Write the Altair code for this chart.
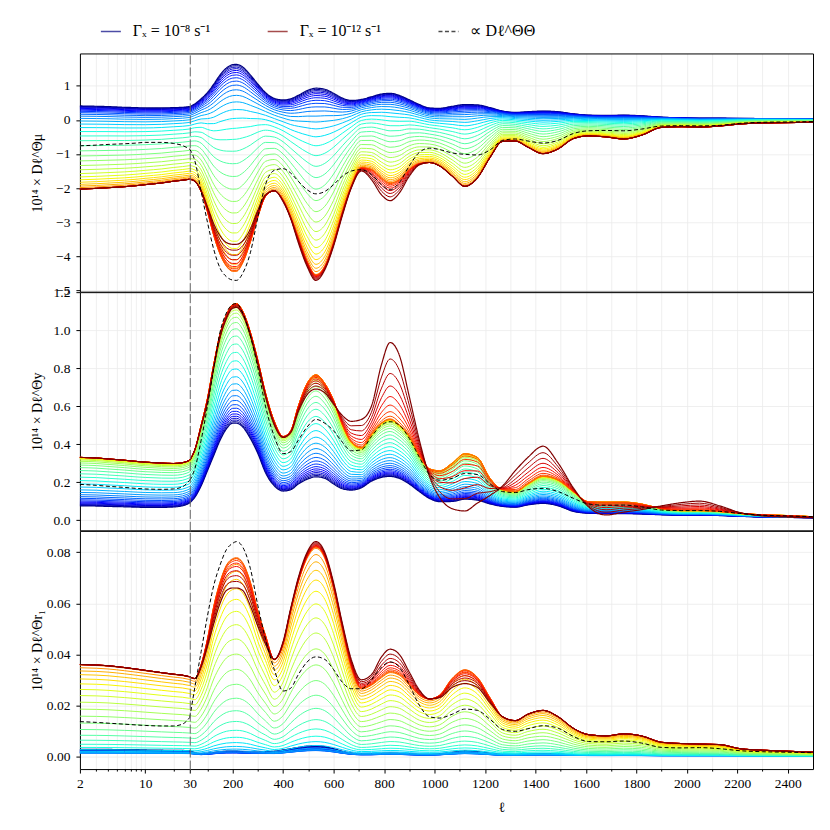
import numpy as np
import pandas as pd
import altair as alt

# ---------------- multipole grids ----------------
LOG_L = [2, 3, 4, 6, 8, 10, 15, 20, 25, 30]
LIN_L = [30, 50, 75, 100, 125, 150, 175, 200, 215, 240,
         270, 300, 330, 365, 400, 430, 460, 495, 530, 565,
         600, 635, 670, 710, 750, 790, 824, 860, 900, 940,
         980, 1020, 1070, 1120, 1170, 1220, 1270, 1320, 1370, 1430,
         1490, 1550, 1610, 1680, 1750, 1820, 1900, 1980, 2050, 2130,
         2210, 2300, 2400, 2500]

# ---------------- panel 1 : Theta-mu ----------------
MU_BLUE_LOG = [0.41, 0.40, 0.39, 0.37, 0.36, 0.35, 0.35, 0.36, 0.37, 0.39]
MU_SAT_LOG = [-2.03, -2.01, -1.99, -1.96, -1.93, -1.90, -1.85, -1.80, -1.77, -1.74]
MU_DARK_LOG = [-2.03, -2.01, -1.99, -1.96, -1.93, -1.90, -1.85, -1.80, -1.77, -1.74]
MU_DASH_LOG = [-0.76, -0.74, -0.72, -0.70, -0.68, -0.66, -0.66, -0.69, -0.75, -0.86]
MU_BLUE_LIN = [0.39, 0.47, 0.62, 0.80, 1.05, 1.32, 1.52, 1.62, 1.63, 1.55,
               1.32, 1.05, 0.80, 0.63, 0.585, 0.62, 0.72, 0.86, 0.93, 0.90,
               0.78, 0.64, 0.57, 0.60, 0.68, 0.76, 0.78, 0.72, 0.59, 0.45,
               0.35, 0.34, 0.40, 0.45, 0.44, 0.36, 0.26, 0.22, 0.24, 0.26,
               0.24, 0.18, 0.14, 0.13, 0.14, 0.12, 0.08, 0.06, 0.05, 0.05,
               0.045, 0.04, 0.035, 0.03]
MU_SAT_LIN = [-1.74, -1.80, -2.10, -2.70, -3.40, -3.95, -4.30, -4.45, -4.45, -4.20,
              -3.60, -2.85, -2.25, -2.08, -2.35, -2.85, -3.45, -4.15, -4.55, -4.30,
              -3.60, -2.70, -1.95, -1.40, -1.45, -1.70, -1.85, -1.75, -1.45, -1.28,
              -1.25, -1.35, -1.65, -1.95, -1.70, -1.10, -0.63, -0.62, -0.80, -0.99,
              -0.85, -0.55, -0.47, -0.50, -0.56, -0.45, -0.22, -0.20, -0.21, -0.18,
              -0.12, -0.09, -0.08, -0.07]
MU_DARK_LIN = [-1.74, -1.80, -2.08, -2.55, -3.05, -3.40, -3.60, -3.65, -3.65, -3.55,
               -3.20, -2.65, -2.20, -2.08, -2.40, -2.90, -3.60, -4.30, -4.71, -4.40,
               -3.70, -2.80, -2.00, -1.50, -1.75, -2.20, -2.37, -2.15, -1.65, -1.32,
               -1.25, -1.35, -1.65, -1.95, -1.70, -1.10, -0.63, -0.62, -0.80, -0.99,
               -0.85, -0.55, -0.47, -0.50, -0.56, -0.45, -0.22, -0.20, -0.21, -0.18,
               -0.12, -0.09, -0.08, -0.07]
MU_DASH_LIN = [-0.86, -1.20, -2.10, -3.00, -3.80, -4.35, -4.60, -4.70, -4.71, -4.50,
               -3.90, -2.85, -1.90, -1.48, -1.43, -1.56, -1.80, -2.05, -2.17, -2.10,
               -1.90, -1.65, -1.50, -1.46, -1.60, -1.90, -2.05, -1.85, -1.35, -0.95,
               -0.83, -0.87, -0.97, -1.01, -1.03, -0.88, -0.60, -0.56, -0.62, -0.68,
               -0.60, -0.40, -0.32, -0.31, -0.32, -0.27, -0.18, -0.17, -0.175, -0.16,
               -0.10, -0.07, -0.06, -0.05]

# ---------------- panel 2 : Theta-y ----------------
Y_BLUE_LOG = [0.075, 0.074, 0.072, 0.070, 0.068, 0.067, 0.067, 0.069, 0.075, 0.090]
Y_SAT_LOG = [0.330, 0.327, 0.322, 0.315, 0.309, 0.305, 0.300, 0.298, 0.302, 0.315]
Y_DARK_LOG = [0.330, 0.327, 0.322, 0.315, 0.309, 0.305, 0.300, 0.298, 0.302, 0.315]
Y_DASH_LOG = [0.188, 0.183, 0.178, 0.172, 0.167, 0.164, 0.162, 0.164, 0.175, 0.210]
Y_BLUE_LIN = [0.090, 0.12, 0.18, 0.26, 0.34, 0.42, 0.48, 0.51, 0.51, 0.49,
              0.43, 0.35, 0.25, 0.18, 0.153, 0.16, 0.19, 0.215, 0.228, 0.22,
              0.19, 0.165, 0.158, 0.17, 0.205, 0.225, 0.23, 0.22, 0.19, 0.15,
              0.114, 0.097, 0.098, 0.11, 0.105, 0.085, 0.072, 0.068, 0.080, 0.088,
              0.075, 0.046, 0.036, 0.034, 0.034, 0.032, 0.028, 0.026, 0.026, 0.024,
              0.020, 0.016, 0.014, 0.012]
Y_SAT_LIN = [0.315, 0.37, 0.50, 0.64, 0.82, 0.98, 1.08, 1.135, 1.14, 1.10,
             0.99, 0.84, 0.67, 0.52, 0.44, 0.47, 0.60, 0.72, 0.765, 0.72,
             0.63, 0.50, 0.41, 0.38, 0.45, 0.51, 0.53, 0.50, 0.44, 0.34,
             0.27, 0.26, 0.30, 0.35, 0.33, 0.22, 0.16, 0.15, 0.19, 0.23,
             0.21, 0.15, 0.097, 0.095, 0.095, 0.085, 0.060, 0.050, 0.050, 0.045,
             0.035, 0.028, 0.024, 0.018]
Y_DARK_LIN = [0.315, 0.37, 0.49, 0.62, 0.80, 0.96, 1.06, 1.115, 1.12, 1.08,
              0.97, 0.82, 0.65, 0.50, 0.435, 0.46, 0.57, 0.66, 0.69, 0.67,
              0.61, 0.55, 0.52, 0.53, 0.60, 0.82, 0.935, 0.87, 0.65, 0.42,
              0.23, 0.12, 0.06, 0.048, 0.09, 0.13, 0.18, 0.26, 0.33, 0.389,
              0.30, 0.17, 0.07, 0.027, 0.042, 0.055, 0.075, 0.092, 0.10, 0.075,
              0.040, 0.022, 0.016, 0.012]
Y_DASH_LIN = [0.21, 0.27, 0.42, 0.60, 0.80, 0.99, 1.09, 1.135, 1.14, 1.09,
              0.97, 0.80, 0.60, 0.44, 0.35, 0.36, 0.42, 0.49, 0.53, 0.51,
              0.47, 0.41, 0.365, 0.37, 0.44, 0.50, 0.518, 0.50, 0.43, 0.33,
              0.24, 0.21, 0.22, 0.245, 0.24, 0.19, 0.15, 0.145, 0.16, 0.167,
              0.15, 0.115, 0.085, 0.078, 0.079, 0.070, 0.053, 0.050, 0.050, 0.046,
              0.035, 0.026, 0.022, 0.018]

# ---------------- panel 3 : Theta-r1 ----------------
R_BLUE_LOG = [0.0027, 0.0027, 0.0027, 0.0026, 0.0026, 0.0025, 0.0024, 0.0023, 0.0023, 0.0022]
R_SAT_LOG = [0.0360, 0.0358, 0.0355, 0.0348, 0.0342, 0.0337, 0.0328, 0.0322, 0.0318, 0.0312]
R_DARK_LOG = [0.0360, 0.0358, 0.0355, 0.0348, 0.0342, 0.0337, 0.0328, 0.0322, 0.0318, 0.0312]
R_DASH_LOG = [0.0136, 0.0133, 0.0130, 0.0126, 0.0123, 0.0121, 0.0119, 0.0119, 0.0126, 0.0152]
R_BLUE_LIN = [0.0022, 0.0015, 0.0010, 0.0012, 0.0015, 0.0018, 0.0020, 0.0020, 0.0020, 0.0018,
              0.0017, 0.0017, 0.0018, 0.0020, 0.0025, 0.0030, 0.0035, 0.0040, 0.0041, 0.0038,
              0.0030, 0.0020, 0.0013, 0.0010, 0.0010, 0.0012, 0.0013, 0.0012, 0.0010, 0.0008,
              0.0008, 0.0010, 0.0016, 0.0021, 0.0018, 0.0012, 0.0008, 0.0008, 0.0009, 0.0010,
              0.0009, 0.0007, 0.0006, 0.0006, 0.0006, 0.0006, 0.0005, 0.0005, 0.0005, 0.0005,
              0.0005, 0.0004, 0.0004, 0.0004]
R_SAT_LIN = [0.0312, 0.0305, 0.036, 0.046, 0.059, 0.0685, 0.075, 0.0776, 0.078, 0.076,
             0.0685, 0.057, 0.0476, 0.038, 0.044, 0.057, 0.0685, 0.078, 0.082, 0.078,
             0.066, 0.050, 0.035, 0.0265, 0.028, 0.031, 0.033, 0.032, 0.028, 0.024,
             0.0225, 0.024, 0.0306, 0.034, 0.031, 0.023, 0.0155, 0.014, 0.0165, 0.018,
             0.0155, 0.011, 0.0085, 0.008, 0.0088, 0.008, 0.0055, 0.005, 0.0048, 0.0046,
             0.003, 0.0024, 0.002, 0.0016]
R_DARK_LIN = [0.0312, 0.0305, 0.035, 0.043, 0.052, 0.060, 0.065, 0.066, 0.066, 0.065,
              0.059, 0.051, 0.044, 0.038, 0.045, 0.058, 0.070, 0.080, 0.0842, 0.080,
              0.068, 0.052, 0.038, 0.030, 0.032, 0.039, 0.042, 0.040, 0.033, 0.026,
              0.0225, 0.023, 0.027, 0.0285, 0.027, 0.021, 0.0155, 0.014, 0.0165, 0.018,
              0.0155, 0.011, 0.0085, 0.008, 0.0088, 0.008, 0.0055, 0.005, 0.0048, 0.0046,
              0.003, 0.0024, 0.002, 0.0016]
R_DASH_LIN = [0.0152, 0.027, 0.041, 0.055, 0.067, 0.075, 0.081, 0.0835, 0.0842, 0.082,
              0.0737, 0.059, 0.046, 0.034, 0.0256, 0.0267, 0.032, 0.037, 0.039, 0.038,
              0.034, 0.029, 0.0265, 0.0265, 0.030, 0.035, 0.037, 0.035, 0.028, 0.020,
              0.0155, 0.015, 0.0165, 0.0185, 0.018, 0.0145, 0.0105, 0.0098, 0.0108, 0.012,
              0.011, 0.0078, 0.0058, 0.0057, 0.006, 0.0052, 0.0035, 0.0033, 0.0034, 0.003,
              0.0022, 0.0018, 0.0016, 0.0014]

# ---------------- family of curves ----------------
N_CURVES = 41
T_SAT = 0.78
K_MIX = 10.0
T_MID = 0.47

KIND_BLUE = "Γₓ = 10⁻⁸ s⁻¹"
KIND_RED = "Γₓ = 10⁻¹² s⁻¹"
KIND_DASH = "∝ Dℓ^ΘΘ"
KINDS = [KIND_BLUE, KIND_RED, KIND_DASH]

FONT = "Liberation Serif"
W_LEFT, W_RIGHT, H = 110, 624, 238.5
GRID = "#ebebeb"


def jet_hex(t):
    r = np.interp(t, [0, 0.35, 0.66, 0.89, 1.0], [0, 0, 1, 1, 0.5])
    g = np.interp(t, [0, 0.125, 0.375, 0.64, 0.91, 1.0], [0, 0, 1, 1, 0, 0])
    b = np.interp(t, [0, 0.11, 0.34, 0.65, 1.0], [0.5, 1, 1, 0, 0])
    return "#%02x%02x%02x" % (int(round(r * 255)), int(round(g * 255)), int(round(b * 255)))


def curve_weights(t):
    L = lambda x: 1.0 / (1.0 + np.exp(-K_MIX * (x - T_MID)))
    wr = min(max((L(t) - L(0.0)) / (L(T_SAT) - L(0.0)), 0.0), 1.0)
    w = 0.88 * wr + 0.12 * min(t / T_SAT, 1.0)
    v = ((t - T_SAT) / (1.0 - T_SAT)) ** 2 if t > T_SAT else 0.0
    return w, v


def family_value(panel, a0, a1, a2, w, v):
    if panel == 0:
        return a0 + (a1 - a0) * w + (a2 - a1) * v
    if panel == 1:
        return a0 + (a1 - a0) * (1 - (1 - w) ** 2) + (a2 - a1) * v
    return a0 * (1 - w) ** 10 + a1 * w ** 2 + (a2 - a1) * v


PANELS = [
    dict(blue=(MU_BLUE_LOG, MU_BLUE_LIN), sat=(MU_SAT_LOG, MU_SAT_LIN),
         dark=(MU_DARK_LOG, MU_DARK_LIN), dash=(MU_DASH_LOG, MU_DASH_LIN),
         domain=[-5.04, 1.95], ticks=[-5, -4, -3, -2, -1, 0, 1], fmt="d",
         title="10¹⁴ × Dℓ^Θμ"),
    dict(blue=(Y_BLUE_LOG, Y_BLUE_LIN), sat=(Y_SAT_LOG, Y_SAT_LIN),
         dark=(Y_DARK_LOG, Y_DARK_LIN), dash=(Y_DASH_LOG, Y_DASH_LIN),
         domain=[-0.054, 1.2], ticks=[0.0, 0.2, 0.4, 0.6, 0.8, 1.0, 1.2], fmt=".1f",
         title="10¹⁴ × Dℓ^Θy"),
    dict(blue=(R_BLUE_LOG, R_BLUE_LIN), sat=(R_SAT_LOG, R_SAT_LIN),
         dark=(R_DARK_LOG, R_DARK_LIN), dash=(R_DASH_LOG, R_DASH_LIN),
         domain=[-0.005, 0.0884], ticks=[0.0, 0.02, 0.04, 0.06, 0.08], fmt=".2f",
         title="10¹⁴ × Dℓ^Θr₁"),
]


def build_frames(p, s):
    P = PANELS[p]
    ells = LOG_L if s == 0 else LIN_L
    a0 = np.array(P["blue"][s], dtype=float)
    a1 = np.array(P["sat"][s], dtype=float)
    a2 = np.array(P["dark"][s], dtype=float)
    rows = []
    for i in range(N_CURVES):
        t = i / (N_CURVES - 1)
        w, v = curve_weights(t)
        vals = family_value(p, a0, a1, a2, w, v)
        kind = KIND_BLUE if i == 0 else (KIND_RED if i == N_CURVES - 1 else "")
        for ell, val in zip(ells, vals):
            rows.append(dict(ell=ell, val=float(val), curve="c%02d" % i,
                             hex=jet_hex(t), kind=kind, idx=i))
    df = pd.DataFrame(rows)
    blue = df[df.idx == 0]
    mid = df[(df.idx > 0) & (df.idx < N_CURVES - 1)]
    dark = df[df.idx == N_CURVES - 1]
    dash = pd.DataFrame(dict(ell=ells, val=P["dash"][s], kind=KIND_DASH))
    return blue, mid, dark, dash


LEG = alt.Legend(title=None, orient="none", direction="horizontal",
                 legendX=20, legendY=-33, symbolType="stroke", symbolSize=400,
                 symbolStrokeWidth=1.5, symbolOpacity=0.7, labelFontSize=16,
                 labelFont=FONT, columnPadding=54, labelOffset=11, padding=0)
COLOR = alt.Color("kind:N", scale=alt.Scale(domain=KINDS, range=["#000080", "#800000", "#000000"]),
                  legend=LEG)
DASH = alt.StrokeDash("kind:N", scale=alt.Scale(domain=KINDS, range=[[1, 0], [1, 0], [4, 2.5]]),
                      legend=LEG)


def subpanel(p, s):
    P = PANELS[p]
    is_bottom = p == 2
    blue, mid, dark, dash = build_frames(p, s)
    if s == 0:
        xscale = alt.Scale(type="log", domain=[2, 30], nice=False)
        major = [2, 10, 30]
        minor = [3, 4, 5, 6, 7, 8, 9, 20]
        width = W_LEFT
    else:
        xscale = alt.Scale(domain=[30, 2500], nice=False, zero=False)
        major = list(range(200, 2401, 200))
        minor = list(range(100, 2301, 200))
        width = W_RIGHT
    yscale = alt.Scale(domain=P["domain"], nice=False, zero=False)

    ax_major = alt.Axis(values=major, format="d", labels=is_bottom, ticks=is_bottom,
                        tickSize=4, domain=True, grid=True, labelFlush=False,
                        labelOverlap=False, orient="bottom", labelPadding=3,
                        title=("ℓ" if (is_bottom and s == 1) else None),
                        titlePadding=11)
    ax_minor = alt.Axis(values=minor, labels=False, ticks=is_bottom, tickSize=2,
                        domain=False, grid=True, title=None, orient="bottom")
    ax_top = alt.Axis(values=major, labels=False, ticks=False, domain=True,
                      grid=False, title=None, orient="top")
    if s == 0:
        ax_y1 = alt.Axis(values=P["ticks"], format=P["fmt"], title=P["title"],
                         tickSize=4, grid=True, labelFlush=False, labelOverlap=False,
                         titleX=-42, titleY=H / 2, titleBaseline="middle", labelPadding=6)
        ax_y2 = None
        ax_y3 = None
    else:
        ax_y1 = alt.Axis(values=P["ticks"], labels=False, ticks=False, domain=False,
                         grid=True, title=None)
        ax_y2 = alt.Axis(values=P["ticks"], labels=False, ticks=False, grid=False,
                         domain=True, domainDash=[9, 3], domainColor="#666666",
                         title=None, orient="left", zindex=1)
        ax_y3 = alt.Axis(values=P["ticks"], labels=False, ticks=False, grid=False,
                         domain=True, title=None, orient="right")

    l_blue = alt.Chart(blue).mark_line(interpolate="monotone", strokeWidth=1.2).encode(
        x=alt.X("ell:Q", scale=xscale, axis=ax_major),
        y=alt.Y("val:Q", scale=yscale, axis=ax_y1),
        color=COLOR, strokeDash=DASH)
    l_mid = alt.Chart(mid).mark_line(interpolate="monotone", strokeWidth=1.0).encode(
        x=alt.X("ell:Q", scale=xscale, axis=ax_minor),
        y=alt.Y("val:Q", scale=yscale, axis=ax_y2),
        detail="curve:N",
        stroke=alt.Stroke("hex:N", scale=None))
    l_dark = alt.Chart(dark).mark_line(interpolate="monotone", strokeWidth=1.2).encode(
        x=alt.X("ell:Q", scale=xscale, axis=ax_top),
        y=alt.Y("val:Q", scale=yscale, axis=ax_y3),
        color=COLOR, strokeDash=DASH)
    l_dash = alt.Chart(dash).mark_line(interpolate="monotone", strokeWidth=1.0).encode(
        x=alt.X("ell:Q", scale=xscale, axis=None),
        y=alt.Y("val:Q", scale=yscale, axis=None),
        color=COLOR, strokeDash=DASH)
    return alt.layer(l_blue, l_mid, l_dark, l_dash).resolve_axis(
        x="independent", y="independent").properties(width=width, height=H)


cells = [subpanel(p, s) for p in range(3) for s in range(2)]

chart = alt.concat(*cells, columns=2, spacing=0, bounds="flush").properties(
    padding={"left": 23, "top": 12, "right": 6, "bottom": 5}
).configure_view(stroke=None).configure_axis(
    labelFont=FONT, titleFont=FONT, labelFontSize=13.5, titleFontSize=14,
    labelColor="black", titleColor="black", tickColor="black",
    domainColor="black", domainWidth=1, gridColor=GRID, gridWidth=0.8,
    titleFontWeight="normal"
)

chart.save("out.html", embed_options={"renderer": "svg", "actions": False})
